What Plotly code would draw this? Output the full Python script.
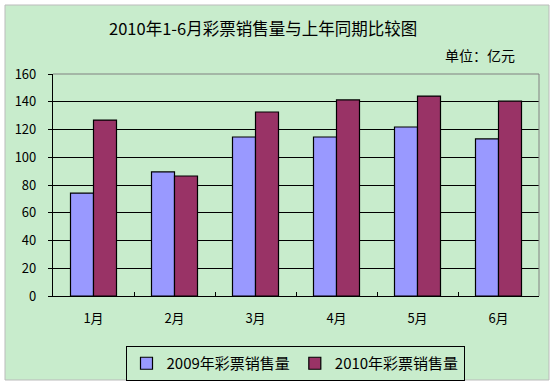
import plotly.graph_objects as go

months = ["1月", "2月", "3月", "4月", "5月", "6月"]
sales_2009 = [74.2, 89.4, 114.6, 114.6, 121.8, 113.2]
sales_2010 = [126.8, 86.5, 132.6, 141.3, 144.1, 140.5]
series_names = ["2009年彩票销售量", "2010年彩票销售量"]
y_ticks = [0, 20, 40, 60, 80, 100, 120, 140, 160]

FONT = "Noto Sans CJK SC"
BG = "#C8ECCC"
W, H = 554, 384
L, R, T, B = 53, 15, 74, 88
PW, PH = W - L - R, H - T - B


def px_x(x):
    return (x - L) / PW


def px_y(y):
    return (H - B - y) / PH


fig = go.Figure()
fig.add_trace(go.Bar(x=months, y=sales_2009, name=series_names[0],
                     marker=dict(color="#9999FF", line=dict(color="black", width=1.2))))
fig.add_trace(go.Bar(x=months, y=sales_2010, name=series_names[1],
                     marker=dict(color="#993366", line=dict(color="black", width=1.2))))

fig.update_layout(
    width=W, height=H,
    paper_bgcolor="white", plot_bgcolor=BG,
    margin=dict(l=L, r=R, t=T, b=B, autoexpand=False),
    barmode="group", bargap=0.432, bargroupgap=0,
    font=dict(family=FONT, size=13, color="black"),
    showlegend=True,
    legend=dict(orientation="h", xref="container", yref="container",
                x=295 / W, xanchor="center", y=1 - 346 / H, yanchor="top",
                bordercolor="black", borderwidth=1, bgcolor=BG,
                font=dict(size=15, family=FONT), itemwidth=30, tracegroupgap=0,
                entrywidth=0),
    shapes=[
        dict(type="rect", xref="paper", yref="paper", layer="below",
             x0=px_x(5), x1=px_x(549), y0=px_y(380), y1=px_y(5),
             fillcolor=BG, line=dict(color="#BBBBBB", width=1)),
        dict(type="line", xref="paper", yref="paper", x0=0, x1=1, y0=1, y1=1,
             line=dict(color="#808080", width=1)),
        dict(type="line", xref="paper", yref="paper", x0=1, x1=1, y0=0, y1=1,
             line=dict(color="#808080", width=1)),
    ],
    annotations=[
        dict(text="2010年1-6月彩票销售量与上年同期比较图", xref="paper", yref="paper",
             x=px_x(263), y=px_y(28), xanchor="center", yanchor="middle",
             showarrow=False, font=dict(size=16.5, family=FONT)),
        dict(text="单位：亿元", xref="paper", yref="paper",
             x=px_x(480), y=px_y(55), xanchor="center", yanchor="middle",
             showarrow=False, font=dict(size=14, family=FONT)),
    ],
)

fig.update_xaxes(showline=True, linecolor="black", linewidth=1.2,
                 ticks="inside", tickson="boundaries", ticklen=4, tickcolor="black",
                 showgrid=False, ticklabelstandoff=10)
fig.update_yaxes(range=[0, 160], tickvals=y_ticks, showline=True, linecolor="black", linewidth=1.2,
                 ticks="outside", ticklen=4, tickcolor="black",
                 showgrid=True, gridcolor="black", gridwidth=1.2, zeroline=False,
                 ticklabelstandoff=9)

fig.write_html("out.html", config={"displayModeBar": False},
               post_script="document.body.style.margin='0px';")
